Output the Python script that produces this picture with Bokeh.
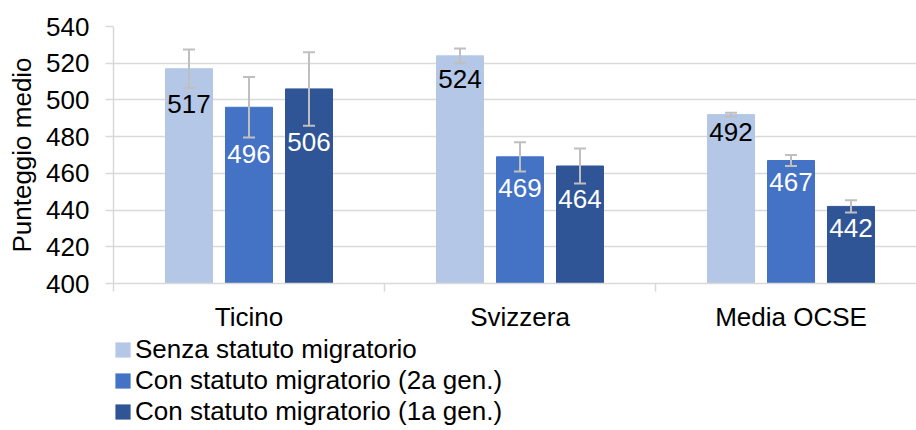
from bokeh.plotting import figure
from bokeh.layouts import column
from bokeh.models import (ColumnDataSource, FixedTicker, Whisker, TeeHead, Legend,
                          LegendItem, Range1d)
from bokeh.core.properties import value
from bokeh.embed import file_html
from bokeh.resources import INLINE

categories = ["Ticino", "Svizzera", "Media OCSE"]
series_names = ["Senza statuto migratorio",
                "Con statuto migratorio (2a gen.)",
                "Con statuto migratorio (1a gen.)"]
senza = [517, 524, 492]
gen2 = [496, 469, 467]
gen1 = [506, 464, 442]
err_senza = [10.5, 4, 1]
err_gen2 = [16.5, 8, 3]
err_gen1 = [20, 9.5, 3.3]
y_ticks = [400, 420, 440, 460, 480, 500, 520, 540]

series_values = [senza, gen2, gen1]
series_errors = [err_senza, err_gen2, err_gen1]
colors = ["#B4C7E7", "#4472C4", "#2F5597"]
label_colors = ["#000000", "#FFFFFF", "#FFFFFF"]

FONT = "Liberation Sans"
GRID = "#D9D9D9"
W = 916
H1, H2 = 334, 96
LEFT, TOP, BOTTOM = 113, 26, 50
CAT_PX = 271
dodge = 0.2214
bar_w = 0.1734

p = figure(width=W, height=H1, output_backend="svg", toolbar_location=None,
           x_range=Range1d(0, (W - LEFT) / CAT_PX),
           y_range=Range1d(y_ticks[0], y_ticks[-1]),
           min_border_left=LEFT, min_border_top=TOP, min_border_right=0,
           min_border_bottom=BOTTOM)
p.outline_line_color = None
p.background_fill_color = "white"
p.border_fill_color = "white"

# legend-only figure below the chart; its bars sit outside (below) its view
p2 = figure(width=W, height=H2, output_backend="svg", toolbar_location=None,
            x_axis_location=None, y_axis_location=None,
            x_range=Range1d(0, (W - LEFT) / CAT_PX),
            y_range=Range1d(y_ticks[-1] + 40, y_ticks[-1] + 60),
            min_border_left=95, min_border_top=0, min_border_right=0,
            min_border_bottom=0)
p2.outline_line_color = None
p2.xgrid.grid_line_color = None
p2.ygrid.grid_line_color = None

items = []
for k, (vals, errs) in enumerate(zip(series_values, series_errors)):
    xs = [i + 0.5 + (k - 1) * dodge for i in range(len(categories))]
    src = ColumnDataSource(dict(
        x=xs, top=vals,
        upper=[v + e for v, e in zip(vals, errs)],
        lower=[v - e for v, e in zip(vals, errs)],
        label=[str(v) for v in vals]))
    p.vbar(x="x", top="top", bottom=y_ticks[0], width=bar_w, source=src,
           fill_color=colors[k], line_color=colors[k])
    wh = Whisker(base="x", upper="upper", lower="lower", source=src,
                 level="annotation",
                 line_color="#BFBFBF", line_width=2,
                 upper_head=TeeHead(size=12, line_color="#BFBFBF", line_width=2),
                 lower_head=TeeHead(size=12, line_color="#BFBFBF", line_width=2))
    p.add_layout(wh)
    p.text(x="x", y="lower", text="label", source=src,
           text_font=value(FONT), text_font_size="26px",
           text_color=label_colors[k], text_align="center",
           text_baseline="middle", y_offset=16)
    lr = p2.vbar(x="x", top="top", bottom=y_ticks[0], width=bar_w, source=src,
                 fill_color=colors[k], line_color=None)
    items.append(LegendItem(label=series_names[k], renderers=[lr]))

# axes
p.xaxis.ticker = FixedTicker(ticks=[i + 0.5 for i in range(len(categories))],
                             minor_ticks=list(range(len(categories) + 1)))
overrides = {}
for i, c in enumerate(categories):
    overrides[i + 0.5] = c
    overrides[str(i + 0.5)] = c
p.xaxis.major_label_overrides = overrides
p.xaxis.major_tick_out = 0
p.xaxis.major_tick_in = 0
p.xaxis.minor_tick_out = 8
p.xaxis.minor_tick_in = 0
p.xaxis.minor_tick_line_color = GRID
p.xaxis.minor_tick_line_width = 1.5
p.xaxis.axis_line_color = GRID
p.xaxis.axis_line_width = 1.5
p.xaxis.major_label_text_font = FONT
p.xaxis.major_label_text_font_size = "26px"
p.xaxis.major_label_text_color = "#000000"
p.xaxis.major_label_standoff = 10

p.yaxis.ticker = FixedTicker(ticks=y_ticks)
p.yaxis.major_tick_out = 8
p.yaxis.major_tick_in = 0
p.yaxis.minor_tick_line_color = None
p.yaxis.major_tick_line_color = GRID
p.yaxis.major_tick_line_width = 1.5
p.yaxis.axis_line_color = GRID
p.yaxis.axis_line_width = 1.5
p.yaxis.major_label_text_font = FONT
p.yaxis.major_label_text_font_size = "26px"
p.yaxis.major_label_text_color = "#000000"
p.yaxis.major_label_standoff = 16
p.yaxis.axis_label = "Punteggio medio"
p.yaxis.axis_label_text_font = FONT
p.yaxis.axis_label_text_font_size = "26px"
p.yaxis.axis_label_text_font_style = "normal"
p.yaxis.axis_label_text_color = "#000000"
p.yaxis.axis_label_standoff = 6

p.xgrid.grid_line_color = None
p.ygrid.grid_line_color = GRID
p.ygrid.grid_line_width = 1.5

legend = Legend(items=items, location="top_left", orientation="vertical",
                label_text_font=FONT, label_text_font_size="26px",
                label_text_color="#000000", glyph_width=19, glyph_height=19,
                label_standoff=3, spacing=0, padding=3, margin=0,
                border_line_color=None, background_fill_alpha=0)
p2.add_layout(legend)

layout = column(p, p2, spacing=0)
open("out.html", "w").write(file_html(layout, INLINE))
